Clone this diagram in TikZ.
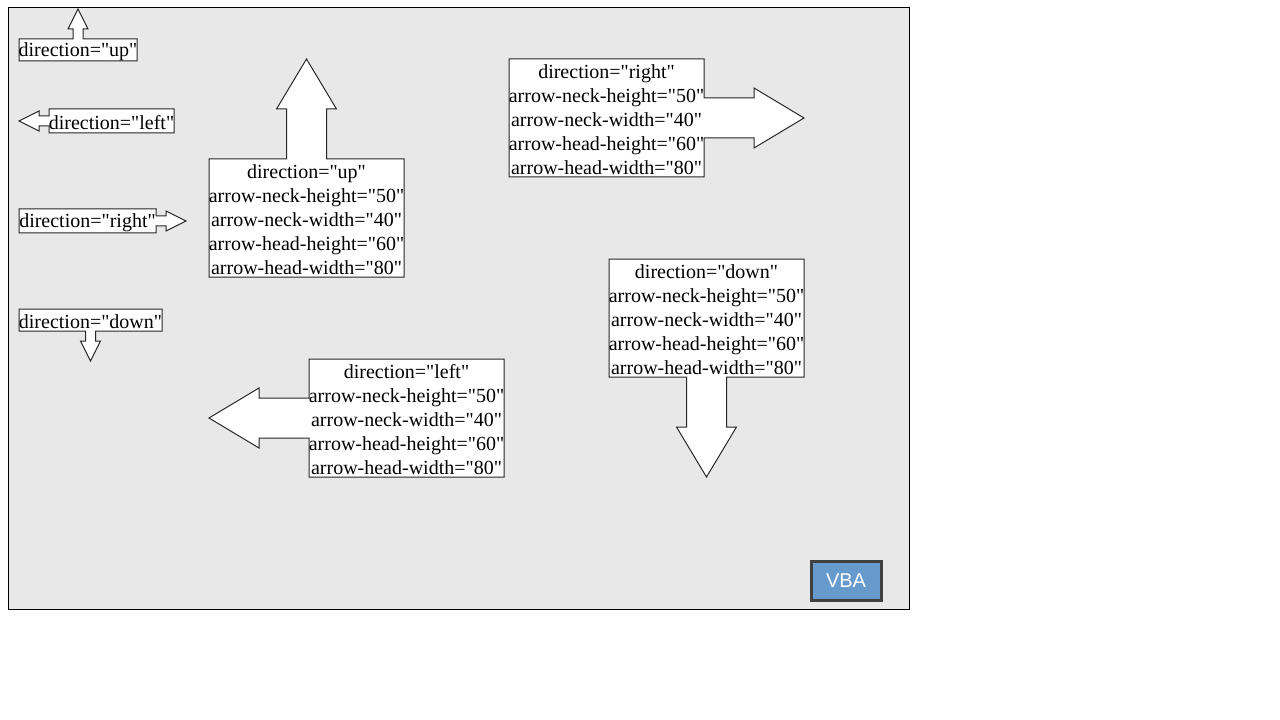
\documentclass[tikz,border=0pt]{standalone}
\usepackage{fontspec}
\setmainfont{Liberation Serif}[Ligatures=TeXOff]
\setsansfont{Liberation Sans}
\definecolor{panelgray}{HTML}{E8E8E8}
\definecolor{vbablue}{HTML}{6699CC}
\definecolor{vbaedge}{HTML}{404040}

\begin{document}
\begin{tikzpicture}[x=0.75pt,y=-0.75pt,
  every node/.style={font=\fontsize{15}{18}\selectfont,align=center,inner sep=0pt},
  callout/.style={draw=black!85,fill=white,line width=0.75pt,line join=miter}]
  \useasboundingbox (0,0) rectangle (1280,720);
  \draw[fill=panelgray,line width=0.75pt] (8,8) rectangle (909,609);

  % small callouts, default sizes
  \draw[callout] (19,39) -- (73,39) -- (73,29) -- (68,29) -- (78,9) -- (88,29) -- (83,29) -- (83,39)
    -- (137,39) -- (137,61) -- (19,61) -- cycle;
  \node (up1) at (78,52) {direction="up"};

  \draw[callout] (49,109) -- (174,109) -- (174,133) -- (49,133) -- (49,126) -- (39,126) -- (39,131)
    -- (19,121) -- (39,111) -- (39,116) -- (49,116) -- cycle;
  \node (left1) at (111.5,123) {direction="left"};

  \draw[callout] (19,209) -- (156,209) -- (156,216) -- (166,216) -- (166,211) -- (186,221)
    -- (166,231) -- (166,226) -- (156,226) -- (156,233) -- (19,233) -- cycle;
  \node (right1) at (87.5,223) {direction="right"};

  \draw[callout] (19,309) -- (162,309) -- (162,331) -- (95.5,331) -- (95.5,341) -- (100.5,341)
    -- (90.5,361) -- (80.5,341) -- (85.5,341) -- (85.5,331) -- (19,331) -- cycle;
  \node (down1) at (90.5,322) {direction="down"};

  % large callouts
  \draw[callout] (209,159) -- (286.5,159) -- (286.5,109) -- (276.5,109) -- (306.5,59) -- (336.5,109)
    -- (326.5,109) -- (326.5,159) -- (404,159) -- (404,277) -- (209,277) -- cycle;
  \node (up2) at (306.5,219.5) {direction="up"\\arrow-neck-height="50"\\arrow-neck-width="40"\\
    arrow-head-height="60"\\arrow-head-width="80"};

  \draw[callout] (509,59) -- (704,59) -- (704,98) -- (754,98) -- (754,88) -- (804,118) -- (754,148)
    -- (754,138) -- (704,138) -- (704,177) -- (509,177) -- cycle;
  \node (right2) at (606.5,119.5) {direction="right"\\arrow-neck-height="50"\\arrow-neck-width="40"\\
    arrow-head-height="60"\\arrow-head-width="80"};

  \draw[callout] (309,359) -- (504,359) -- (504,477) -- (309,477) -- (309,438) -- (259,438) -- (259,448)
    -- (209,418) -- (259,388) -- (259,398) -- (309,398) -- cycle;
  \node (left2) at (406.5,419.5) {direction="left"\\arrow-neck-height="50"\\arrow-neck-width="40"\\
    arrow-head-height="60"\\arrow-head-width="80"};

  \draw[callout] (609,259) -- (804,259) -- (804,377) -- (726.5,377) -- (726.5,427) -- (736.5,427)
    -- (706.5,477) -- (676.5,427) -- (686.5,427) -- (686.5,377) -- (609,377) -- cycle;
  \node (down2) at (706.5,319.5) {direction="down"\\arrow-neck-height="50"\\arrow-neck-width="40"\\
    arrow-head-height="60"\\arrow-head-width="80"};

  \node[draw=vbaedge,line width=2.25pt,fill=vbablue,text=white,font=\sffamily\fontsize{15}{18}\selectfont,
    minimum width=52.5pt,minimum height=29.25pt] (vba) at (846,581) {VBA};
\end{tikzpicture}
\end{document}
